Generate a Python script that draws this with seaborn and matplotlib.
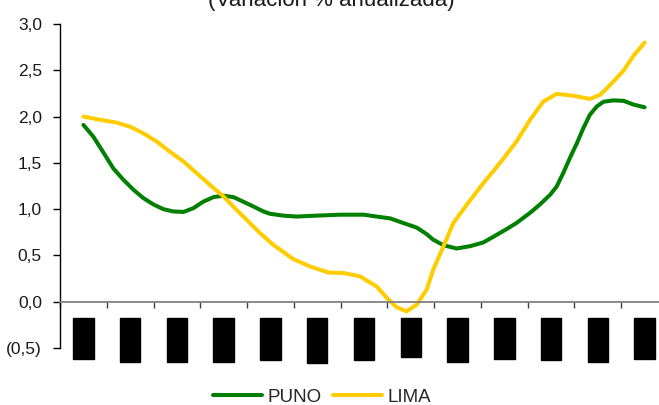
import numpy as np
import pandas as pd
import matplotlib
matplotlib.use("Agg")
import matplotlib.pyplot as plt
import seaborn as sns
from matplotlib.ticker import FixedLocator, FuncFormatter

# ---------------- data ----------------
month_labels = ["Dic-17", "Ene-18", "Feb-18", "Mar-18", "Abr-18", "May-18", "Jun-18",
                "Jul-18", "Ago-18", "Set-18", "Oct-18", "Nov-18", "Dic-18"]

puno_x = [0.0, 0.21, 0.43, 0.64, 0.85, 1.07, 1.28, 1.50, 1.71, 1.92, 2.14, 2.35, 2.56,
          2.78, 2.99, 3.21, 3.42, 3.63, 3.85, 3.99, 4.27, 4.56, 4.99, 5.49, 5.99, 6.27,
          6.56, 6.84, 7.13, 7.34, 7.48, 7.70, 7.98, 8.27, 8.55, 8.76, 9.05, 9.26, 9.55,
          9.76, 9.98, 10.12, 10.26, 10.40, 10.55, 10.69, 10.83, 10.98, 11.12, 11.33,
          11.55, 11.76, 12.0]
puno_y = [1.91, 1.785, 1.61, 1.44, 1.32, 1.21, 1.12, 1.05, 1.00, 0.975, 0.97, 1.01, 1.08,
          1.13, 1.145, 1.13, 1.08, 1.03, 0.975, 0.95, 0.93, 0.92, 0.93, 0.94, 0.94, 0.92,
          0.90, 0.85, 0.80, 0.73, 0.67, 0.61, 0.575, 0.60, 0.64, 0.70, 0.785, 0.85, 0.96,
          1.05, 1.155, 1.245, 1.39, 1.55, 1.71, 1.875, 2.02, 2.11, 2.16, 2.175,
          2.17, 2.13, 2.10]

lima_x = [0.0, 0.36, 0.71, 1.00, 1.28, 1.57, 1.85, 2.14, 2.42, 2.71, 2.99, 3.28, 3.56,
          3.78, 4.06, 4.49, 4.85, 5.24, 5.56, 5.91, 6.27, 6.49, 6.70, 6.91, 7.13, 7.34,
          7.48, 7.70, 7.91, 8.20, 8.55, 8.91, 9.26, 9.55, 9.83, 10.12, 10.48, 10.83,
          11.05, 11.26, 11.54, 11.76, 12.0]
lima_y = [2.00, 1.965, 1.935, 1.89, 1.82, 1.73, 1.62, 1.515, 1.39, 1.26, 1.14, 0.99, 0.85,
          0.74, 0.615, 0.46, 0.38, 0.315, 0.31, 0.275, 0.165, 0.04, -0.06, -0.105, -0.03,
          0.13, 0.345, 0.60, 0.85, 1.05, 1.28, 1.50, 1.73, 1.965, 2.16, 2.245, 2.225,
          2.19, 2.235, 2.34, 2.49, 2.655, 2.80]

y_ticks = [-0.5, 0.0, 0.5, 1.0, 1.5, 2.0, 2.5, 3.0]
title_text = "(Variación % anualizada)"

# ---------------- style ----------------
sns.set_style("white")
plt.rcParams["font.family"] = ["Liberation Sans", "DejaVu Sans"]

GREEN = "#008000"
YELLOW = "#FFCC00"
LW = 2.9

fig = plt.figure(figsize=(6.59, 4.05), dpi=100)
ax = fig.add_axes([60 / 659, 57 / 405, 608 / 659, 324 / 405])

df_p = pd.DataFrame({"x": puno_x, "y": puno_y})
df_l = pd.DataFrame({"x": lima_x, "y": lima_y})
sns.lineplot(data=df_p, x="x", y="y", ax=ax, color=GREEN, lw=LW, label="PUNO",
             estimator=None, sort=False)
sns.lineplot(data=df_l, x="x", y="y", ax=ax, color=YELLOW, lw=LW, label="LIMA",
             estimator=None, sort=False)

ax.set_xlim(-0.5, len(month_labels) - 0.5)
ax.set_ylim(-0.5, 3.0)
ax.set_xlabel("")
ax.set_ylabel("")

# spines
for s in ["top", "right"]:
    ax.spines[s].set_visible(False)
ax.spines["left"].set_color("black")
ax.spines["left"].set_linewidth(1.0)
ax.spines["bottom"].set_position(("data", 0))
ax.spines["bottom"].set_color("#808080")
ax.spines["bottom"].set_linewidth(1.3)

# y ticks
def yfmt(v, pos):
    s = f"{abs(v):.1f}".replace(".", ",")
    return f"({s})" if v < 0 else s

ax.yaxis.set_major_locator(FixedLocator(y_ticks))
ax.yaxis.set_major_formatter(FuncFormatter(yfmt))
ax.tick_params(axis="y", direction="out", length=5, width=1, color="black",
               pad=8, labelsize=12.5, labelcolor="#1a1a1a", left=True)

# x ticks: boundaries (marks) and centers (labels)
ax.xaxis.set_major_locator(FixedLocator(np.arange(-0.5, len(month_labels), 1.0)))
ax.xaxis.set_major_formatter(FuncFormatter(lambda v, p: ""))
ax.xaxis.set_minor_locator(FixedLocator(np.arange(0, len(month_labels), 1.0)))
ax.set_xticklabels(month_labels, minor=True)
ax.tick_params(axis="x", which="major", direction="out", length=4, width=1,
               color="#404040", bottom=True)
ax.tick_params(axis="x", which="minor", length=0, pad=15.5, labelsize=7.5,
               labelrotation=90, bottom=True)
for lab in ax.get_xticklabels(minor=True):
    lab.set_color("black")
    lab.set_va("top")
    lab.set_bbox(dict(facecolor="black", edgecolor="black",
                      boxstyle="square,pad=0.5"))

ax.grid(False)

# title (partially cut at top, as in the reference)
fig.text(331 / 659, 1 - 6 / 405, title_text, ha="center", va="baseline",
         fontsize=16, color="#1a1a1a")

# legend
ax.get_legend().remove()
handles, labels = ax.get_legend_handles_labels()
fig.legend(handles, labels, loc="center", bbox_to_anchor=(322 / 659, 1 - 397 / 405),
           ncol=2, frameon=False, fontsize=13.5, handlelength=2.6, handletextpad=0.3,
           columnspacing=0.6, borderaxespad=0, borderpad=0)

fig.savefig("out.png", dpi=100)
